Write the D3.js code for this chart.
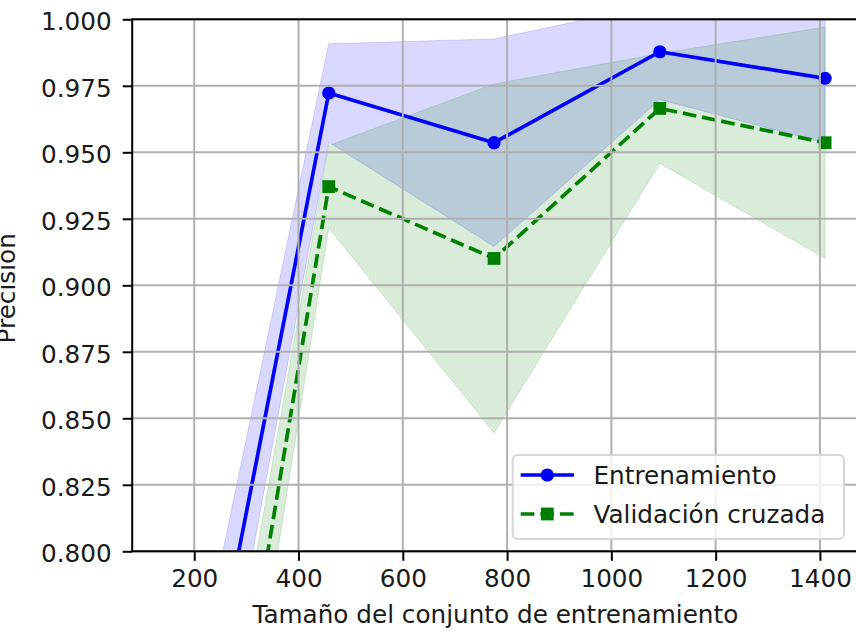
<!DOCTYPE html>
<html>
<head>
<meta charset="utf-8">
<script src="https://cdn.jsdelivr.net/npm/d3@7"></script>
<style>
  html, body { margin: 0; padding: 0; background: #fff; }
  svg { display: block; }
  text { font-family: "DejaVu Sans", sans-serif; }
</style>
</head>
<body>
<svg id="chart" width="856" height="633"></svg>
<script>
// ---- data ----
const trainSizes = [141, 458, 775, 1093, 1410];
const trainMean  = [0.656, 0.9723, 0.9536, 0.9878, 0.9778];
const trainStd   = [0.037, 0.0185, 0.039, 0.018, 0.0243];
const testMean   = [0.565, 0.9371, 0.9101, 0.9665, 0.9536];
const testStd    = [0.037, 0.0155, 0.0656, 0.0206, 0.0435];
const xTicks = [200, 400, 600, 800, 1000, 1200, 1400];
const yTicks = [0.800, 0.825, 0.850, 0.875, 0.900, 0.925, 0.950, 0.975, 1.000];
const seriesNames = ["Entrenamiento", "Validación cruzada"];
const xLabel = "Tamaño del conjunto de entrenamiento";
const yLabel = "Precisión";

// ---- layout ----
const W = 856, H = 633;
const L = 132.2, R = 858.5, T = 19.3, B = 551.3;
const FS = 24.7;

const svg = d3.select("#chart");
const x = d3.scaleLinear().domain([81, 1474]).range([L, R]);
const y = d3.scaleLinear().domain([0.8, 1.0]).range([B, T]);

const defs = svg.append("defs");
defs.append("clipPath").attr("id", "plotclip")
  .append("rect").attr("x", L).attr("y", T).attr("width", R - L).attr("height", B - T);

const train = trainSizes.map((s, i) => ({x: s, m: trainMean[i], s: trainStd[i]}));
const test  = trainSizes.map((s, i) => ({x: s, m: testMean[i], s: testStd[i]}));

const plot = svg.append("g").attr("clip-path", "url(#plotclip)");

const area = d3.area()
  .x(d => x(d.x))
  .y0(d => y(d.m - d.s))
  .y1(d => y(d.m + d.s));

plot.append("path").datum(train).attr("d", area)
  .attr("fill", "blue").attr("fill-opacity", 0.15)
  .attr("stroke", "blue").attr("stroke-opacity", 0.15).attr("stroke-width", 1);
plot.append("path").datum(test).attr("d", area)
  .attr("fill", "green").attr("fill-opacity", 0.15)
  .attr("stroke", "green").attr("stroke-opacity", 0.15).attr("stroke-width", 1);

// grid
const grid = svg.append("g");
grid.selectAll("line.gx").data(xTicks).enter().append("line")
  .attr("x1", d => x(d)).attr("x2", d => x(d)).attr("y1", T).attr("y2", B)
  .attr("stroke", "#b0b0b0").attr("stroke-width", 2);
grid.selectAll("line.gy").data(yTicks).enter().append("line")
  .attr("x1", L).attr("x2", R).attr("y1", d => y(d)).attr("y2", d => y(d))
  .attr("stroke", "#b0b0b0").attr("stroke-width", 2);

// lines
const line = d3.line().x(d => x(d.x)).y(d => y(d.m));
plot.append("path").datum(train).attr("d", line)
  .attr("fill", "none").attr("stroke", "blue").attr("stroke-width", 3.7)
  .attr("stroke-linejoin", "round");
plot.selectAll("circle.tr").data(train).enter().append("circle")
  .attr("cx", d => x(d.x)).attr("cy", d => y(d.m)).attr("r", 6.6)
  .attr("fill", "blue");

plot.append("path").datum(test).attr("d", line)
  .attr("fill", "none").attr("stroke", "green").attr("stroke-width", 3.7)
  .attr("stroke-dasharray", "13.7,5.9");
const sq = 12.8;
plot.selectAll("rect.te").data(test).enter().append("rect")
  .attr("x", d => x(d.x) - sq / 2).attr("y", d => y(d.m) - sq / 2)
  .attr("width", sq).attr("height", sq).attr("fill", "green");

// axes
const yAxis = d3.axisLeft(y).tickValues(yTicks).tickFormat(d3.format(".3f"))
  .tickSize(9.5).tickPadding(11);
const gy = svg.append("g").attr("transform", `translate(${L},0)`).call(yAxis);
const xAxis = d3.axisBottom(x).tickValues(xTicks).tickFormat(d3.format("d"))
  .tickSize(9.5).tickPadding(9);
const gx = svg.append("g").attr("transform", `translate(0,${B})`).call(xAxis);

[gx, gy].forEach(g => {
  g.attr("font-family", "DejaVu Sans").attr("font-size", FS);
  g.select(".domain").remove();
  g.selectAll(".tick line").attr("stroke", "#000").attr("stroke-width", 2);
  g.selectAll(".tick text").attr("fill", "#1a1a1a");
});
gy.selectAll(".tick text").attr("dy", "0.42em");

// spines
svg.append("rect").attr("x", L).attr("y", T).attr("width", R - L).attr("height", B - T)
  .attr("fill", "none").attr("stroke", "#000").attr("stroke-width", 2);

// labels
svg.append("text").attr("x", (L + R) / 2).attr("y", 623.3)
  .attr("text-anchor", "middle").attr("font-size", FS).attr("fill", "#1a1a1a")
  .text(xLabel);
svg.append("text")
  .attr("transform", `translate(15,${(T + B) / 2 + 3}) rotate(-90)`)
  .attr("text-anchor", "middle").attr("font-size", FS).attr("fill", "#1a1a1a")
  .text(yLabel);

// legend
const lg = svg.append("g");
lg.append("rect").attr("x", 512.7).attr("y", 455).attr("width", 331.3).attr("height", 84)
  .attr("rx", 5).attr("ry", 5)
  .attr("fill", "#fff").attr("fill-opacity", 0.8)
  .attr("stroke", "#d6d6d6").attr("stroke-width", 2);
const legendRows = [
  {name: seriesNames[0], color: "blue", dash: null, marker: "circle", yy: 475, base: 484},
  {name: seriesNames[1], color: "green", dash: "13.7,5.9", marker: "square", yy: 514, base: 522.7}
];
legendRows.forEach(r => {
  const ln = lg.append("line").attr("x1", 520.7).attr("x2", 574).attr("y1", r.yy).attr("y2", r.yy)
    .attr("stroke", r.color).attr("stroke-width", 3.7);
  if (r.dash) ln.attr("stroke-dasharray", r.dash);
  if (r.marker === "circle") {
    lg.append("circle").attr("cx", 547.3).attr("cy", r.yy).attr("r", 6.6).attr("fill", r.color);
  } else {
    lg.append("rect").attr("x", 547.3 - sq / 2).attr("y", r.yy - sq / 2)
      .attr("width", sq).attr("height", sq).attr("fill", r.color);
  }
  lg.append("text").attr("x", 593.5).attr("y", r.base).attr("font-size", FS)
    .attr("fill", "#1a1a1a").text(r.name);
});
</script>
</body>
</html>
